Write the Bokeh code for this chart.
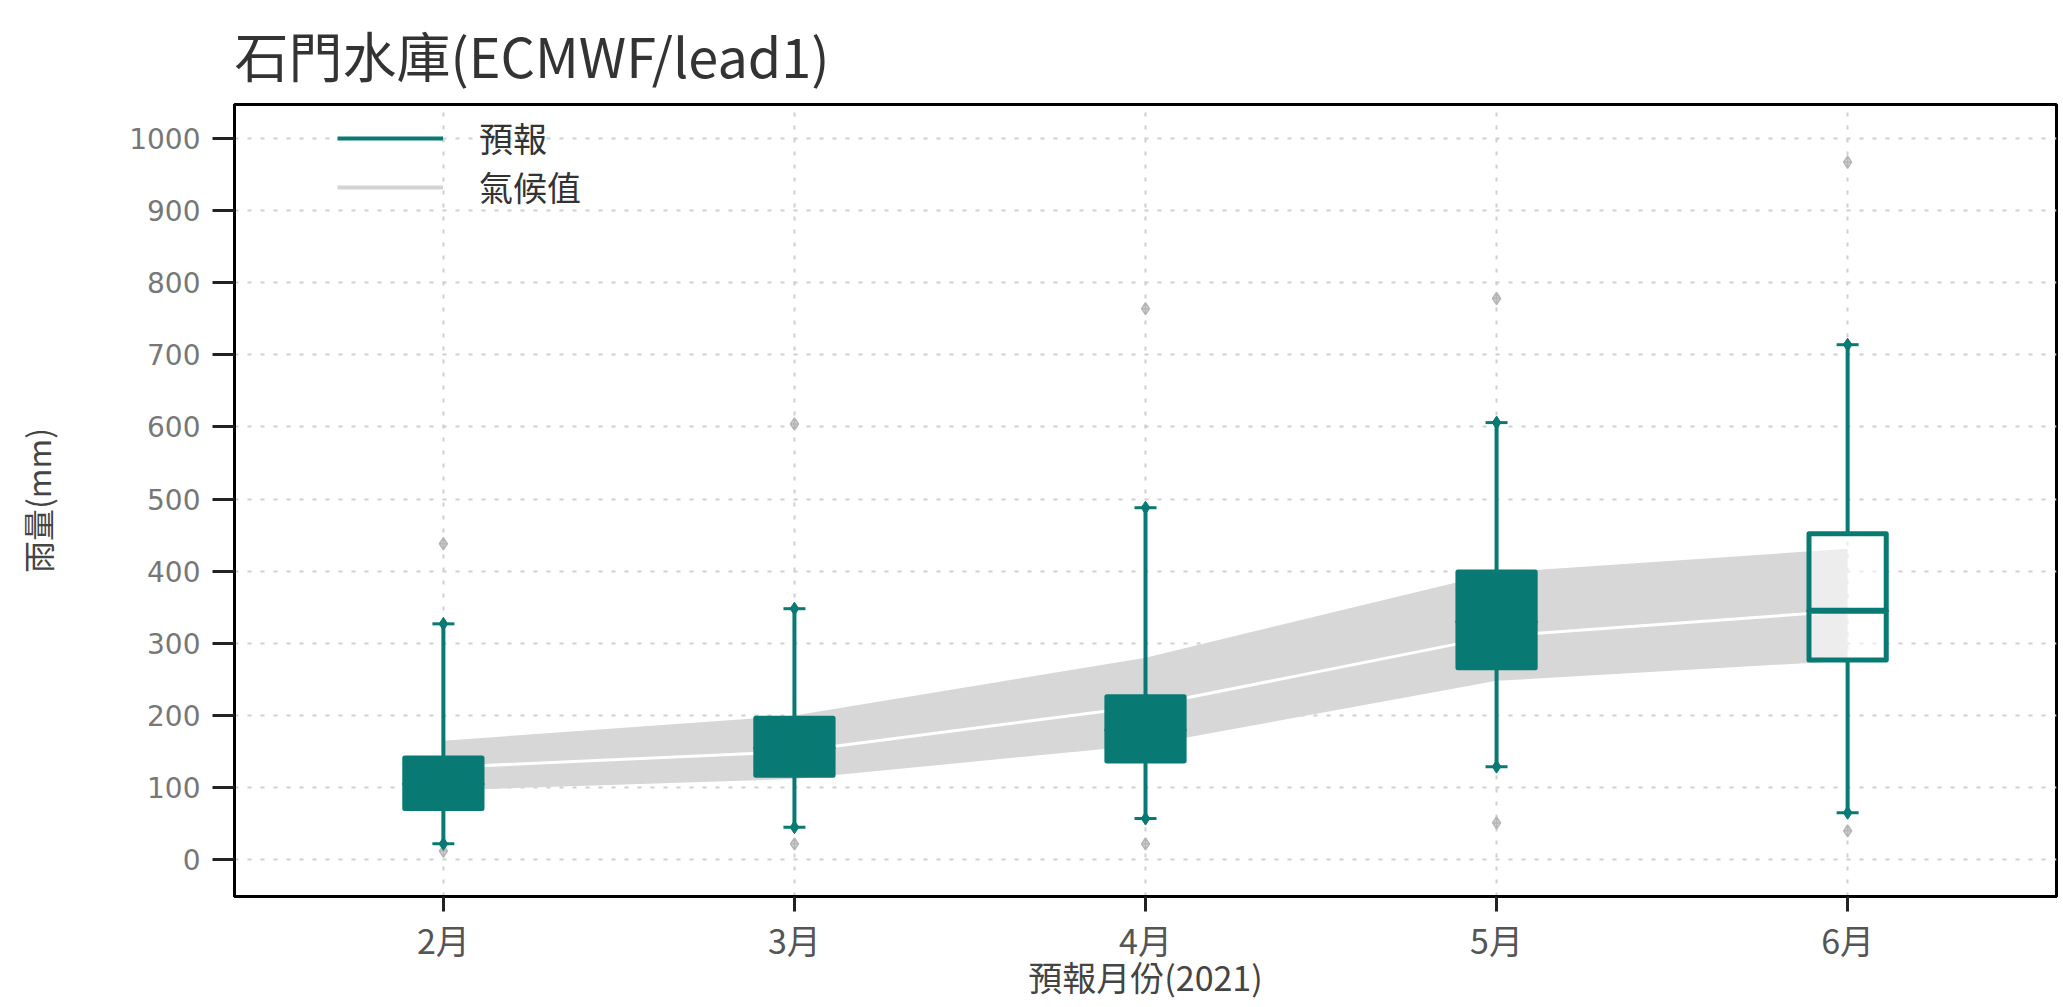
from bokeh.plotting import figure
from bokeh.models import ColumnDataSource, FixedTicker, Legend, LegendItem, Range1d
from bokeh.embed import file_html
from bokeh.resources import INLINE

# ---- data ----
months = ["2月", "3月", "4月", "5月", "6月"]
xpos = [1, 2, 3, 4, 5]
fc_min = [22, 45, 57, 129, 65]
fc_q1 = [71, 117, 137, 266, 277]
fc_med = [105, 155, 180, 330, 345]
fc_q3 = [141, 196, 226, 399, 452]
fc_max = [327, 348, 488, 606, 714]
clim_low = [96, 112, 159, 248, 276]
clim_mid = [128, 150, 213, 310, 345]
clim_high = [165, 200, 280, 398, 431]
clim_min = [12, 22, 22, 51, 40]
clim_max = [438, 604, 764, 778, 967]
filled = [True, True, True, True, False]
yticks = list(range(0, 1001, 100))

TEAL = "#087a73"
FONT = "Noto Sans CJK TC"

W, H = 2060, 1004
FRAME_H = 896 - 104
p = figure(width=W, height=H, output_backend="svg", toolbar_location=None,
           x_range=Range1d(0.405, 5.595), y_range=Range1d(-51, 1047),
           min_border_left=234, min_border_right=W - 2056, min_border_top=104,
           min_border_bottom=H - 896)

p.title.text = "石門水庫(ECMWF/lead1)"
p.title.text_font = FONT
p.title.text_font_size = "54px"
p.title.text_font_style = "normal"
p.title.text_color = "#333333"
p.title.align = "left"
p.title.standoff = 21

p.outline_line_color = "black"
p.outline_line_width = 3
p.background_fill_color = "white"
p.border_fill_color = "white"

# grid
for g in (p.xgrid, p.ygrid):
    g.grid_line_color = "#cfcfcf"
    g.grid_line_dash = "4 9"
    g.grid_line_width = 2

p.xaxis.ticker = FixedTicker(ticks=xpos)
p.xaxis.major_label_overrides = {x: m for x, m in zip(xpos, months)}
p.yaxis.ticker = FixedTicker(ticks=yticks)
p.xgrid.ticker = FixedTicker(ticks=xpos)

for ax in (p.xaxis[0], p.yaxis[0]):
    ax.axis_line_color = "black"
    ax.axis_line_width = 3
    ax.major_tick_line_color = "#222222"
    ax.major_tick_line_width = 3
    ax.major_tick_in = 0
    ax.minor_tick_line_color = None
    ax.major_label_text_font = FONT
    ax.axis_label_text_font = FONT
    ax.axis_label_text_font_style = "normal"
    ax.axis_label_text_color = "#444444"

p.yaxis.major_tick_out = 22
p.xaxis.major_tick_out = 15
p.yaxis.major_label_text_font = "DejaVu Sans"
p.yaxis.major_label_text_font_size = "28px"
p.yaxis.major_label_text_color = "#777777"
p.yaxis.major_label_standoff = 12
p.xaxis.major_label_text_font_size = "34px"
p.xaxis.major_label_text_color = "#555555"
p.xaxis.major_label_standoff = 3
p.xaxis.axis_label = "預報月份(2021)"
p.xaxis.axis_label_text_font_size = "34px"
p.xaxis.axis_label_standoff = -15
p.yaxis.axis_label = "雨量(mm)"
p.yaxis.axis_label_text_font_size = "32px"
p.yaxis.axis_label_standoff = 66

# climatology band
csrc = ColumnDataSource(dict(x=xpos, low=clim_low, mid=clim_mid, high=clim_high,
                             cmin=clim_min, cmax=clim_max))
p.varea(x="x", y1="low", y2="high", source=csrc, fill_color="#d7d7d7")
p.line(x="x", y="mid", source=csrc, line_color="white", line_width=3)
for col in ("cmax", "cmin"):
    p.scatter(x="x", y=col, source=csrc, marker="diamond_cross", size=12,
              fill_color="#bdbdbd", line_color="#b5b5b5", fill_alpha=0.6, line_width=1.5)

# forecast boxes
fsrc = ColumnDataSource(dict(
    x=xpos, fmin=fc_min, q1=fc_q1, med=fc_med, q3=fc_q3, fmax=fc_max,
    fill=[TEAL if f else "white" for f in filled],
    falpha=[1.0 if f else 0.55 for f in filled],
))
whisk = p.segment(x0="x", y0="q3", x1="x", y1="fmax", source=fsrc, line_color=TEAL, line_width=4)
p.segment(x0="x", y0="fmin", x1="x", y1="q1", source=fsrc, line_color=TEAL, line_width=4)
for col in ("fmax", "fmin"):
    p.scatter(x="x", y=col, source=fsrc, marker="dash", size=22, line_color=TEAL, line_width=3)
    p.scatter(x="x", y=col, source=fsrc, marker="diamond", size=13, fill_color=TEAL, line_color=TEAL)
p.vbar(x="x", bottom="q1", top="q3", width=0.22, source=fsrc,
       fill_color="fill", fill_alpha="falpha", line_color=TEAL, line_width=5, line_join="round")
p.rect(x="x", y="med", width=0.22, height=1, height_units="screen", source=fsrc,
       fill_color=TEAL, line_color=TEAL, line_width=5)

# legend proxy for the climatology entry (no visible data)
nan = float("nan")
proxy_clim = p.line(x=[nan], y=[nan], line_color="#d4d4d4", line_width=4)
legend = Legend(items=[LegendItem(label="預報", renderers=[whisk]),
                       LegendItem(label="氣候值", renderers=[proxy_clim])],
                border_line_color=None, background_fill_alpha=0,
                label_text_font=FONT, label_text_font_size="34px", label_text_color="#333333",
                glyph_width=106, glyph_height=40, label_standoff=36, spacing=0,
                margin=0, padding=0, label_height=40)
legend.location = (103, FRAME_H - 9 - 98)
p.add_layout(legend)

open("out.html", "w").write(file_html(p, INLINE))
